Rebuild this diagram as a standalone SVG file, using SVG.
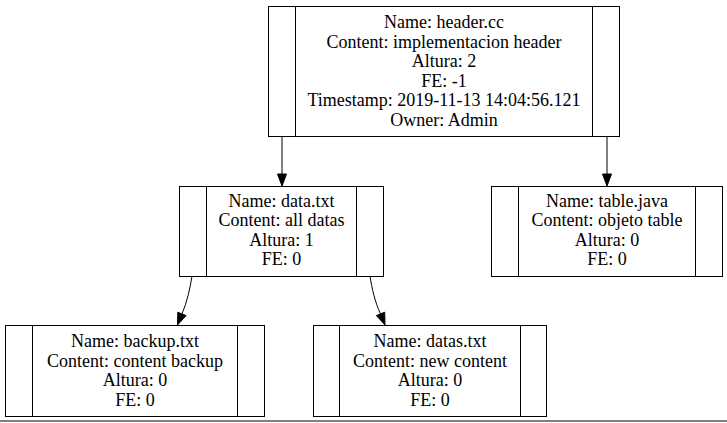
<svg xmlns="http://www.w3.org/2000/svg" width="727" height="423" viewBox="0 0 727 423">
  <style>
    .box { fill: #ffffff; stroke: #000000; stroke-width: 1; }
    .div { stroke: #000000; stroke-width: 1; }
    .lbl { font-family: "Liberation Serif", "Times New Roman", serif; font-size: 18px; fill: #000000; text-anchor: middle; }
    .edge { fill: none; stroke: #000000; stroke-width: 1; }
    .head { fill: #000000; stroke: #000000; stroke-width: 1; }
  </style>
  <rect x="0" y="0" width="727" height="423" fill="#ffffff"/>

  <!-- tree edges -->
  <g id="edges">
    <path class="edge" d="M282,136 L282,174"/>
    <polygon class="head" points="277.5,174 282,186 286.5,174"/>
    <path class="edge" d="M607,136 L607,174"/>
    <polygon class="head" points="602.5,174 607,186 611.5,174"/>
    <path class="edge" d="M192,276 C190,289 187,302 182,314"/>
    <polygon class="head" points="186.1,315.6 177.5,325 177.8,312.2"/>
    <path class="edge" d="M370,276 C372,289 375,302 380.5,314"/>
    <polygon class="head" points="384.7,312.2 385,325 376.4,315.6"/>
  </g>

  <!-- header.cc -->
  <g id="node-header">
    <rect class="box" x="268.5" y="6.5" width="351" height="130"/>
    <line class="div" x1="295.5" y1="6.5" x2="295.5" y2="136.5"/>
    <line class="div" x1="592.5" y1="6.5" x2="592.5" y2="136.5"/>
    <text class="lbl" x="444" y="28">Name: header.cc</text>
    <text class="lbl" x="444" y="47.5">Content: implementacion header</text>
    <text class="lbl" x="444" y="67">Altura: 2</text>
    <text class="lbl" x="444" y="86.5">FE: -1</text>
    <text class="lbl" x="444" y="106">Timestamp: 2019-11-13 14:04:56.121</text>
    <text class="lbl" x="444" y="125.5">Owner: Admin</text>
  </g>

  <!-- data.txt -->
  <g id="node-data">
    <rect class="box" x="179.5" y="186.5" width="204" height="90"/>
    <line class="div" x1="206.5" y1="186.5" x2="206.5" y2="276.5"/>
    <line class="div" x1="356.5" y1="186.5" x2="356.5" y2="276.5"/>
    <text class="lbl" x="281.5" y="206.5">Name: data.txt</text>
    <text class="lbl" x="281.5" y="226">Content: all datas</text>
    <text class="lbl" x="281.5" y="245.5">Altura: 1</text>
    <text class="lbl" x="281.5" y="265">FE: 0</text>
  </g>

  <!-- table.java -->
  <g id="node-table">
    <rect class="box" x="491.5" y="186.5" width="231" height="90"/>
    <line class="div" x1="518.5" y1="186.5" x2="518.5" y2="276.5"/>
    <line class="div" x1="695.5" y1="186.5" x2="695.5" y2="276.5"/>
    <text class="lbl" x="607" y="206.5">Name: table.java</text>
    <text class="lbl" x="607" y="226">Content: objeto table</text>
    <text class="lbl" x="607" y="245.5">Altura: 0</text>
    <text class="lbl" x="607" y="265">FE: 0</text>
  </g>

  <!-- backup.txt -->
  <g id="node-backup">
    <rect class="box" x="5.5" y="325.5" width="259" height="91"/>
    <line class="div" x1="32.5" y1="325.5" x2="32.5" y2="416.5"/>
    <line class="div" x1="237.5" y1="325.5" x2="237.5" y2="416.5"/>
    <text class="lbl" x="135" y="347">Name: backup.txt</text>
    <text class="lbl" x="135" y="366.5">Content: content backup</text>
    <text class="lbl" x="135" y="386">Altura: 0</text>
    <text class="lbl" x="135" y="405.5">FE: 0</text>
  </g>

  <!-- datas.txt -->
  <g id="node-datas">
    <rect class="box" x="313.5" y="325.5" width="233" height="91"/>
    <line class="div" x1="339.5" y1="325.5" x2="339.5" y2="416.5"/>
    <line class="div" x1="520.5" y1="325.5" x2="520.5" y2="416.5"/>
    <text class="lbl" x="430" y="347">Name: datas.txt</text>
    <text class="lbl" x="430" y="366.5">Content: new content</text>
    <text class="lbl" x="430" y="386">Altura: 0</text>
    <text class="lbl" x="430" y="405.5">FE: 0</text>
  </g>

  <!-- bottom rule -->
  <rect x="0" y="420" width="727" height="2" fill="#808080"/>
</svg>
